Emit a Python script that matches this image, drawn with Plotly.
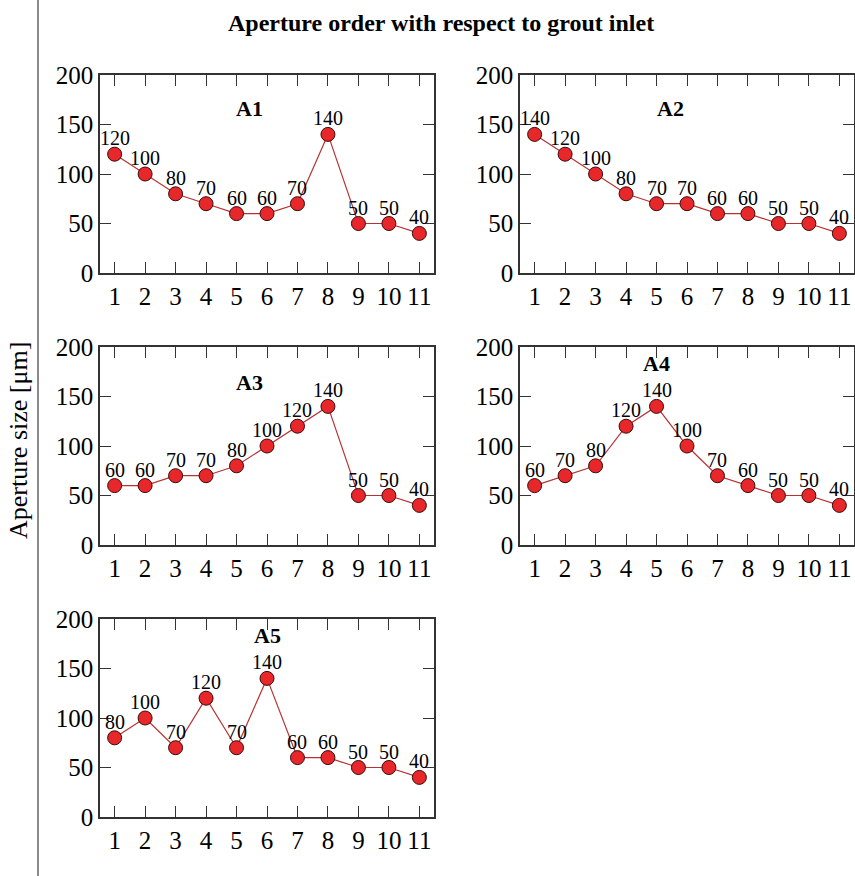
import plotly.graph_objects as go

orders = [1, 2, 3, 4, 5, 6, 7, 8, 9, 10, 11]
a1 = [120, 100, 80, 70, 60, 60, 70, 140, 50, 50, 40]
a2 = [140, 120, 100, 80, 70, 70, 60, 60, 50, 50, 40]
a3 = [60, 60, 70, 70, 80, 100, 120, 140, 50, 50, 40]
a4 = [60, 70, 80, 120, 140, 100, 70, 60, 50, 50, 40]
a5 = [80, 100, 70, 120, 70, 140, 60, 60, 50, 50, 40]
names = ["A1", "A2", "A3", "A4", "A5"]
series = [a1, a2, a3, a4, a5]
y_ticks = [0, 50, 100, 150, 200]
title_text = "Aperture order with respect to grout inlet"
ylabel_text = "Aperture size [μm]"

W, H = 855, 876
FONT = "Liberation Serif, Times New Roman, serif"

# panel pixel boxes (left, right, top, bottom)
cols = [(100, 434), (520, 854)]
rows = [(75, 273), (347, 545), (619, 817)]
panel_pos = [(0, 0), (0, 1), (1, 0), (1, 1), (2, 0)]
label_pos = [(5.43, 166), (5.47, 166), (5.43, 164), (5.0, 183), (6.0, 183)]

fig = go.Figure()
layout = {}
for i, (vals, name) in enumerate(zip(series, names)):
    r, c = panel_pos[i]
    xl, xr = cols[c]
    yt, yb = rows[r]
    k = "" if i == 0 else str(i + 1)
    xa, ya = "x" + k, "y" + k
    fig.add_trace(go.Scatter(
        x=orders, y=vals, mode="lines+markers",
        line=dict(color="#b83232", width=1.2),
        marker=dict(size=14, color="#e8272b", line=dict(color="#3a0a0a", width=1)),
        xaxis=xa, yaxis=ya, showlegend=False, cliponaxis=False,
    ))
    for xv, yv in zip(orders, vals):
        fig.add_annotation(x=xv, y=yv, xref=xa, yref=ya, text=str(yv),
                           showarrow=False, xanchor="center", yanchor="middle",
                           yshift=16, font=dict(family=FONT, size=20, color="black"))
    axcommon = dict(showline=True, linecolor="#333333", linewidth=1.5, mirror="ticks",
                    ticks="inside", ticklen=11, tickwidth=1.2, tickcolor="#333333",
                    showgrid=False, zeroline=False, automargin=False,
                    tickfont=dict(family=FONT, size=25, color="black"))
    layout["xaxis" + k] = dict(domain=[xl / W, xr / W], range=[0.52, 11.48],
                               tickvals=orders, anchor=ya, **axcommon)
    layout["yaxis" + k] = dict(domain=[(H - yb) / H, (H - yt) / H], range=[0, 200],
                               tickvals=y_ticks, anchor=xa, **axcommon)
    fig.add_annotation(x=label_pos[i][0], y=label_pos[i][1], xref=xa, yref=ya,
                       text="<b>" + name + "</b>", showarrow=False,
                       xanchor="center", yanchor="middle",
                       font=dict(family=FONT, size=22, color="black"))

fig.update_layout(**layout)
fig.add_annotation(x=441 / W, y=1 - 23 / H, xref="paper", yref="paper",
                   text="<b>" + title_text + "</b>", showarrow=False,
                   xanchor="center", yanchor="middle",
                   font=dict(family=FONT, size=24, color="black"))
fig.add_annotation(x=18 / W, y=1 - 441 / H, xref="paper", yref="paper",
                   text=ylabel_text, showarrow=False, textangle=-90,
                   xanchor="center", yanchor="middle",
                   font=dict(family=FONT, size=26, color="black"))
fig.add_shape(type="line", xref="paper", yref="paper", x0=38 / W, x1=38 / W, y0=0, y1=1,
              line=dict(color="#8a8a8a", width=2))
fig.update_layout(template="none", width=W, height=H,
                  margin=dict(l=0, r=0, t=0, b=0, pad=0), autosize=False,
                  plot_bgcolor="white", paper_bgcolor="white")
fig.write_html("out.html")
